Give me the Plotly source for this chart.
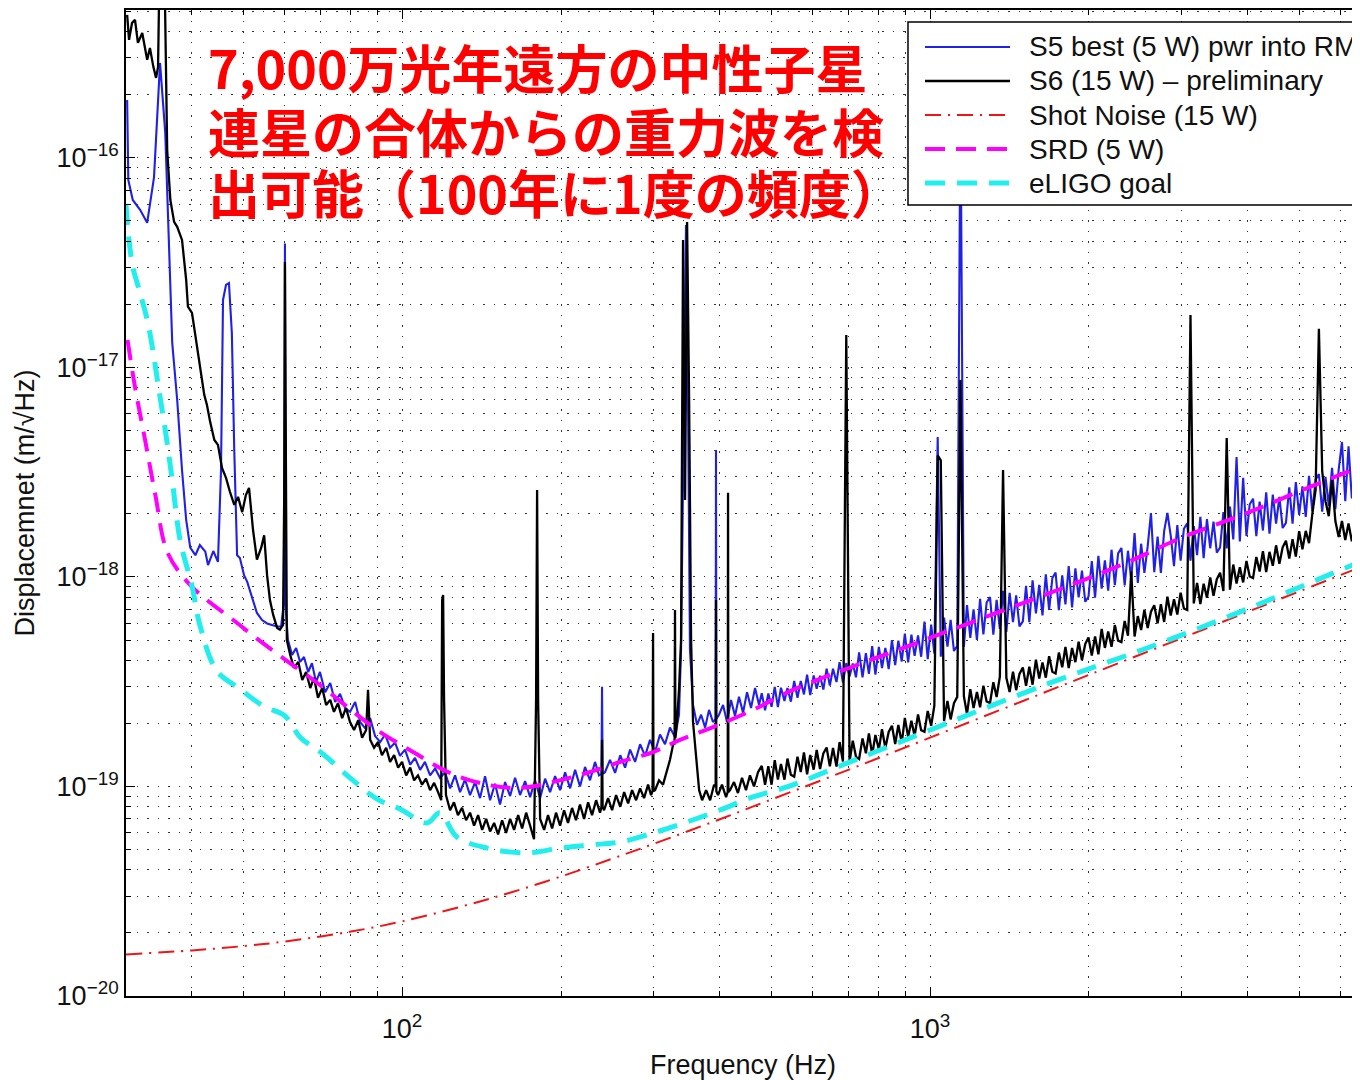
import plotly.graph_objects as go

# ---------------- data ----------------
# S5 (blue) below 480 Hz
s5_low_freq = [30.15, 30.3, 30.9, 31.9, 32.9, 33.9, 34.8, 35.6, 36.7, 37.5, 38.3, 39.0, 39.7, 40.6, 41.4, 42.4, 42.9, 43.9,
               44.8, 45.4, 45.8, 46.4, 47.0, 47.6, 48.1, 48.7, 49.3, 50.2, 50.9, 52.0, 53.1, 54.3, 55.5, 56.7, 58.0, 59.0,
               59.8, 60.0, 60.2, 60.8, 61.9, 63.0, 64.1, 65.2, 66.4, 67.5, 68.7, 69.9, 71.5, 73.1, 74.7, 76.3, 78.0, 79.7,
               81.5, 83.3, 85.1, 87.0, 88.9, 90.9, 92.9, 94.9, 97.0, 99.1, 101.3, 103.6, 105.8, 108.2, 110.5, 113, 115.5,
               118, 120.6, 123.3, 126, 128.8, 131.6, 134.5, 137.5, 140.5, 143.6, 146.8, 150, 153.3, 156.7, 160.2, 163.7,
               167.3, 171, 174.8, 178.6, 182.6, 186.6, 190.7, 194.9, 199.2, 203.6, 208.1, 212.7, 217.3, 222.1, 227, 232,
               236.1, 238.6, 239.2, 239.8, 242.3, 247.7, 253.2, 259, 264.5, 270.3, 276.3, 282.4, 288.6, 294.9, 301.4, 308,
               314.8, 321.7, 328.8, 334.6, 337.6, 342, 345, 348, 351, 355.7, 362, 368.5, 375, 381.4, 388, 392.6, 393.2,
               393.8, 398.4, 405.5, 412.6, 419.8, 427.2, 434.7, 442.4, 450.2, 458.1, 466.2, 474.4]
s5_low_amp = [1.89e-16, 7.85e-17, 6.3e-17, 5.65e-17, 4.9e-17, 8.1e-17, 2.84e-16, 1.32e-16, 1.31e-17, 7.0e-18, 3.24e-18,
              1.87e-18, 1.38e-18, 1.27e-18, 1.42e-18, 1.32e-18, 1.14e-18, 1.33e-18,
              1.18e-18, 3.24e-18, 2.1e-17, 2.48e-17, 2.53e-17, 1.46e-17, 4.04e-18, 1.27e-18, 1.23e-18, 1.02e-18, 9.47e-19,
              7.94e-19, 6.73e-19, 6.23e-19, 6.0e-19, 5.9e-19, 5.8e-19, 5.8e-19,
              7.76e-19, 3.9e-17, 7.0e-19, 5.0e-19, 4.24e-19, 4.58e-19, 3.93e-19, 4.15e-19, 3.52e-19, 3.88e-19, 3.15e-19,
              3.52e-19, 2.82e-19, 3.12e-19, 2.53e-19, 2.77e-19, 2.37e-19, 2.27e-19,
              2.53e-19, 2.03e-19, 1.90e-19, 2.12e-19, 1.74e-19, 1.63e-19, 1.77e-19, 1.53e-19, 1.62e-19, 1.40e-19, 1.50e-19,
              1.27e-19, 1.37e-19, 1.20e-19, 1.31e-19, 1.13e-19, 1.22e-19,
              1.10e-19, 1.17e-19, 9.8e-20, 1.13e-19, 9.4e-20, 1.08e-19, 9.1e-20, 1.05e-19, 8.8e-20, 1.12e-19, 8.6e-20,
              1.03e-19, 8.2e-20, 1.05e-19, 9.0e-20, 1.10e-19,
              9.1e-20, 1.06e-19, 8.9e-20, 1.07e-19, 8.8e-20, 1.09e-19, 9.4e-20, 1.12e-19, 9.6e-20, 1.17e-19, 9.8e-20,
              1.20e-19, 1.0e-19, 1.24e-19, 1.07e-19, 1.31e-19,
              1.13e-19, 1.15e-19, 2.99e-19, 1.15e-19, 1.17e-19, 1.34e-19, 1.16e-19, 1.41e-19, 1.23e-19, 1.50e-19, 1.31e-19,
              1.59e-19, 1.40e-19, 1.67e-19, 1.46e-19, 1.77e-19,
              1.59e-19, 1.91e-19, 1.72e-19, 2.20e-19, 4.49e-19, 7.0e-18, 4.79e-17, 7.0e-18, 4.49e-19, 2.45e-19, 1.97e-19,
              2.2e-19, 1.91e-19, 2.32e-19, 2.03e-19, 2.1e-19, 4.04e-18,
              2.1e-19, 2.2e-19, 2.45e-19, 2.03e-19, 2.59e-19, 2.17e-19, 2.68e-19, 2.25e-19, 2.82e-19, 2.37e-19, 2.95e-19,
              2.45e-19]

# common frequency samples of the dense high-frequency part (Hz)
band_freq = [480, 487, 494, 501, 508, 515, 522, 530, 537, 545,
             553, 561, 569, 577, 585, 593, 602, 610, 619, 628,
             637, 646, 655, 665, 674, 684, 694, 704, 714, 724,
             734, 745, 756, 766, 777, 788, 800, 811, 823, 835,
             847, 859, 871, 884, 896, 909, 922, 935, 949, 962,
             976, 990, 1005, 1019, 1034, 1048, 1063, 1079, 1094, 1110,
             1126, 1142, 1159, 1175, 1192, 1209, 1227, 1244, 1262, 1280,
             1299, 1318, 1337, 1356, 1375, 1395, 1415, 1436, 1456, 1477,
             1499, 1520, 1542, 1564, 1587, 1610, 1633, 1657, 1681, 1705,
             1729, 1754, 1780, 1805, 1831, 1858, 1885, 1912, 1940, 1968,
             1996, 2025, 2054, 2084, 2114, 2144, 2175, 2207, 2239, 2271,
             2304, 2337, 2371, 2405, 2440, 2475, 2511, 2547, 2584, 2621,
             2659, 2698, 2737, 2776, 2816, 2857, 2898, 2940, 2983, 3026,
             3070, 3114, 3159, 3205, 3251, 3298, 3346, 3394, 3443, 3493,
             3543, 3595, 3647, 3699, 3753, 3807, 3862, 3918, 3975, 4032,
             4091, 4150, 4210, 4271, 4332, 4395, 4459, 4523, 4589, 4655,
             4722, 4791, 4860, 4930, 5002, 5074, 5148, 5222, 5298, 5374,
             5452, 5531, 5611, 5692, 5774, 5858, 5943, 6029, 6116, 6204,
             6294, 6385, 6478, 6571, 6666]

s5_band_amp = [2.79e-19, 2.31e-19, 2.78e-19, 2.40e-19, 2.99e-19, 2.39e-19, 2.96e-19, 2.56e-19, 2.95e-19, 2.54e-19,
               3.19e-19, 2.65e-19, 3.19e-19, 2.75e-19, 3.42e-19, 2.73e-19, 3.39e-19, 2.93e-19, 3.38e-19, 2.90e-19,
               3.65e-19, 3.03e-19, 3.65e-19, 3.15e-19, 3.92e-19, 3.13e-19, 3.88e-19, 3.35e-19, 3.86e-19, 3.32e-19,
               4.37e-19, 3.32e-19, 4.33e-19, 3.45e-19, 4.68e-19, 3.42e-19, 4.64e-19, 3.67e-19, 4.59e-19, 3.63e-19,
               5.00e-19, 3.80e-19, 4.96e-19, 3.95e-19, 5.36e-19, 3.91e-19, 5.31e-19, 4.20e-19, 5.26e-19, 4.16e-19,
               6.12e-19, 4.05e-19, 5.93e-19, 4.31e-19, 4.66e-18, 4.16e-19, 6.40e-19, 4.65e-19, 6.24e-19, 4.43e-19,
               4.69e-19, 2.0e-16, 4.64e-19, 7.35e-19, 5.12e-19, 7.00e-19, 5.01e-19, 7.86e-19, 5.32e-19, 7.55e-19,
               8.02e-19, 5.31e-19, 7.77e-19, 5.65e-19, 8.59e-19, 5.46e-19, 8.39e-19, 6.09e-19, 8.17e-19, 5.81e-19,
               6.14e-19, 9.07e-19, 6.08e-19, 9.63e-19, 6.71e-19, 9.17e-19, 6.56e-19, 1.029e-18, 6.97e-19, 9.89e-19,
               1.050e-18, 6.95e-19, 1.018e-18, 7.40e-19, 1.126e-18, 7.15e-19, 1.100e-18, 7.98e-19, 1.071e-18, 7.61e-19,
               8.05e-19, 1.189e-18, 7.97e-19, 1.262e-18, 8.80e-19, 1.201e-18, 8.60e-19, 1.349e-18, 9.13e-19, 1.295e-18,
               1.376e-18, 9.11e-19, 1.334e-18, 9.70e-19, 1.62e-18, 9.37e-19, 1.441e-18, 1.046e-18, 1.403e-18, 2.02e-18,
               1.055e-18, 1.558e-18, 1.045e-18, 1.654e-18, 2.02e-18, 1.575e-18, 1.127e-18, 1.768e-18, 1.197e-18, 1.698e-18,
               1.804e-18, 1.195e-18, 1.749e-18, 1.272e-18, 1.934e-18, 1.228e-18, 1.889e-18, 1.371e-18, 1.839e-18, 1.307e-18,
               1.382e-18, 2.041e-18, 1.369e-18, 2.166e-18, 1.510e-18, 3.74e-18, 1.477e-18, 2.97e-18, 1.568e-18, 2.224e-18,
               2.363e-18, 1.565e-18, 2.291e-18, 1.666e-18, 2.533e-18, 1.609e-18, 2.474e-18, 1.795e-18, 2.409e-18, 1.712e-18,
               1.811e-18, 2.675e-18, 1.794e-18, 2.839e-18, 1.979e-18, 2.703e-18, 1.935e-18, 3.035e-18, 2.055e-18, 2.915e-18,
               3.098e-18, 2.051e-18, 3.003e-18, 2.183e-18, 3.320e-18, 2.108e-18, 3.242e-18, 4.4e-18, 2.30e-18, 4.2e-18,
               2.373e-18, 3.505e-18, 4.77e-18, 2.50e-18, 3.72e-18]

# S6 (black) below 480 Hz
s6_low_freq = [30.15, 30.4, 30.8, 31.2, 31.6, 32.2, 32.9, 33.3, 33.8, 34.2, 34.5, 34.8, 35.4, 35.9, 36.4, 37.0, 37.5, 38.3,
               39.0, 39.3, 40.0, 40.7, 41.4, 42.2, 42.7, 43.3, 44.1, 44.8, 45.6, 46.4, 47.2, 48.1, 48.9, 49.8, 50.6, 51.3,
               52.2, 53.1, 54.1, 54.8, 55.5, 56.2, 57.0, 58.0, 58.7, 59.5, 59.8, 60.0, 60.3, 60.5, 61.4, 62.4, 63.6, 64.7,
               65.8, 67.0, 68.1, 69.3, 70.6, 71.8, 73.1, 74.3, 75.6, 77.0, 78.3, 79.7, 81.1, 82.6, 84.0, 85.5, 86.2, 87.0,
               88.5, 90.1, 91.6, 93.3, 94.9, 96.6, 98.3, 100, 101.8, 103.6, 105.4, 107.2, 109.1, 111, 113, 115, 117, 118.6,
               119.1, 119.6, 120.1, 121.1, 123.3, 125.4, 127.6, 129.9, 132.2, 134.5, 136.9, 139.3, 141.8, 144.3, 146.8,
               149.4, 152, 154.7, 157.4, 160.2, 163, 165.9, 168.8, 171.8, 174.8, 177.8, 179.4, 180.2, 181, 182.6, 185.8,
               189, 192.4, 195.7, 199.2, 202.7, 206.2, 209.9, 213.5, 217.3, 221.2, 225.1, 229, 233.1, 237.1, 238.6, 239.2,
               239.8, 241.3, 245.6, 249.9, 254.3, 259, 263.4, 268, 272.7, 277.5, 282.4, 287.3, 292.4, 296.2, 298.2, 298.8,
               299.4, 301.4, 306.7, 312.1, 317.7, 321.7, 326.2, 328.2, 328.8, 329.4, 331.7, 334.6, 337.6, 340.6, 343.6,
               346.6, 349.7, 352.7, 355.7, 360.6, 365.3, 370.1, 376.6, 383.2, 389.9, 392.6, 393.2, 393.8, 396.7, 403.6,
               410.8, 413.8, 414.4, 415, 418, 425.3, 432.7, 440.4, 448.1, 456, 464.1, 472.3]
s6_low_amp = [4.82e-16, 3.66e-16, 4.41e-16, 4.56e-16, 3.54e-16, 3.95e-16, 2.94e-16, 3.35e-16, 2.72e-16, 2.41e-16, 2.72e-16,
              1.2e-15, 1.2e-15, 1.09e-16, 6.3e-17, 4.95e-17, 4.69e-17, 4.06e-17,
              2.62e-17, 1.95e-17, 1.82e-17, 1.35e-17, 1.0e-17, 7.4e-18, 6.62e-18, 5.5e-18, 4.51e-18, 4.27e-18, 3.31e-18,
              2.97e-18, 2.55e-18, 2.21e-18, 2.41e-18, 2.04e-18, 2.46e-18, 2.66e-18,
              1.68e-18, 1.21e-18, 1.38e-18, 1.58e-18, 1.02e-18, 7.76e-19, 6.59e-19, 5.71e-19, 5.6e-19, 5.9e-19, 2.33e-18,
              3.19e-17, 2.33e-18, 5.0e-19, 4.24e-19, 3.68e-19, 3.93e-19, 3.22e-19,
              3.52e-19, 2.95e-19, 3.30e-19, 2.65e-19, 2.95e-19, 2.45e-19, 2.59e-19, 2.27e-19, 2.50e-19, 2.12e-19, 2.37e-19,
              2.03e-19, 1.86e-19, 2.07e-19, 1.71e-19, 1.86e-19, 2.89e-19, 1.67e-19,
              1.53e-19, 1.63e-19, 1.41e-19, 1.53e-19, 1.31e-19, 1.41e-19, 1.23e-19, 1.31e-19, 1.13e-19, 1.23e-19, 1.07e-19,
              1.13e-19, 1.02e-19, 1.09e-19, 9.6e-20, 1.04e-19, 9.4e-20, 8.6e-20,
              7.76e-19, 8.2e-19, 2.59e-19, 9.1e-20, 7.7e-20, 8.4e-20, 7.3e-20, 7.9e-20, 6.9e-20, 7.5e-20, 6.5e-20, 7.3e-20,
              6.2e-20, 7.0e-20, 6.1e-20,
              6.7e-20, 5.9e-20, 6.9e-20, 6.0e-20, 7.0e-20, 6.2e-20, 7.3e-20, 6.3e-20, 7.5e-20, 6.5e-20, 5.6e-20, 2.59e-19,
              2.6e-18, 2.59e-19, 7.0e-20, 6.2e-20,
              7.3e-20, 6.3e-20, 7.5e-20, 6.5e-20, 7.7e-20, 6.7e-20, 7.9e-20, 6.9e-20, 8.2e-20, 7.0e-20, 8.4e-20, 7.3e-20,
              8.6e-20, 7.5e-20, 8.0e-20, 1.67e-19,
              8.0e-20, 7.7e-20, 8.8e-20, 7.7e-20, 9.1e-20, 8.0e-20, 9.4e-20, 8.3e-20, 9.6e-20, 8.6e-20, 9.8e-20, 8.8e-20,
              1.02e-19, 9.1e-20, 9.5e-20, 5.4e-19,
              9.5e-20, 9.6e-20, 1.07e-19, 1.02e-19, 1.2e-19, 1.34e-19, 1.59e-19, 1.6e-19, 6.96e-19, 1.7e-19, 2.03e-19,
              2.89e-19, 5.0e-19, 4.06e-17, 2.33e-18,
              4.95e-17, 7.0e-18, 5.0e-19, 2.03e-19, 1.34e-19, 9.6e-20, 8.6e-20, 9.6e-20, 8.6e-20, 1.02e-19, 1.0e-19, 7.76e-19,
              9.5e-20, 9.1e-20, 1.02e-19,
              8.9e-20, 9.4e-20, 2.52e-18, 9.4e-20, 9.6e-20, 1.05e-19, 9.3e-20, 1.10e-19, 9.6e-20, 1.13e-19, 1.0e-19, 1.17e-19]

s6_band_amp = [1.254e-19, 1.020e-19, 1.249e-19, 1.020e-19, 1.336e-19, 1.078e-19, 1.282e-19, 1.078e-19, 1.359e-19, 1.138e-19,
               1.113e-19, 1.388e-19, 1.172e-19, 1.453e-19, 1.142e-19, 1.415e-19, 1.203e-19, 1.494e-19, 1.211e-19, 1.439e-19,
               1.534e-19, 1.247e-19, 1.526e-19, 1.245e-19, 1.630e-19, 1.315e-19, 1.43e-17, 1.313e-19, 1.654e-19, 1.385e-19,
               1.353e-19, 1.696e-19, 1.439e-19, 1.792e-19, 1.415e-19, 1.760e-19, 1.503e-19, 1.875e-19, 1.526e-19, 1.821e-19,
               1.949e-19, 1.594e-19, 1.964e-19, 1.613e-19, 2.125e-19, 1.724e-19, 2.061e-19, 1.742e-19, 2.207e-19, 1.857e-19,
               1.825e-19, 2.292e-19, 1.949e-19, 2.432e-19, 3.8e-18, 3.6e-18, 2.051e-19, 2.563e-19, 2.090e-19, 2.497e-19,
               2.677e-19, 8.7e-18, 2.697e-19, 2.214e-19, 2.916e-19, 2.366e-19, 2.827e-19, 2.389e-19, 3.026e-19, 2.547e-19,
               2.501e-19, 3.145e-19, 2.675e-19, 3.341e-19, 3.24e-18, 3.299e-19, 2.825e-19, 3.531e-19, 2.882e-19, 3.446e-19,
               3.696e-19, 3.023e-19, 3.726e-19, 3.060e-19, 4.031e-19, 3.271e-19, 3.910e-19, 3.305e-19, 4.187e-19, 3.525e-19,
               3.462e-19, 4.356e-19, 3.708e-19, 4.633e-19, 3.670e-19, 4.579e-19, 3.922e-19, 4.906e-19, 4.005e-19, 4.791e-19,
               5.141e-19, 4.212e-19, 5.199e-19, 4.277e-19, 5.643e-19, 4.586e-19, 5.489e-19, 4.646e-19, 5.894e-19, 4.968e-19,
               4.886e-19, 6.160e-19, 5.244e-19, 1.06e-18, 5.201e-19, 6.502e-19, 5.578e-19, 6.978e-19, 5.706e-19, 6.826e-19,
               7.336e-19, 6.012e-19, 7.412e-19, 6.098e-19, 8.048e-19, 6.543e-19, 7.822e-19, 6.622e-19, 8.403e-19, 7.075e-19,
               6.960e-19, 1.78e-17, 7.480e-19, 9.356e-19, 7.418e-19, 9.277e-19, 7.953e-19, 9.957e-19, 8.136e-19, 9.752e-19,
               1.047e-18, 8.577e-19, 4.6e-18, 8.694e-19, 1.146e-18, 9.309e-19, 1.113e-18, 9.416e-19, 1.193e-18, 1.006e-18,
               9.879e-19, 1.245e-18, 1.062e-18, 1.329e-18, 1.054e-18, 1.318e-18, 1.130e-18, 1.416e-18, 1.157e-18, 1.386e-18,
               1.490e-18, 1.224e-18, 1.515e-18, 1.250e-18, 1.653e-18, 1.356e-18, 1.659e-18, 1.451e-18, 2.0e-18, 2.6e-18,
               1.53e-17, 3.2e-18, 2.3e-18, 1.95e-18, 2.9e-18, 1.85e-18, 1.55e-18, 1.85e-18, 1.50e-18, 1.80e-18,
               1.48e-18, 1.82e-18, 1.52e-18, 1.80e-18, 1.55e-18]

shot_freq = [30, 40, 50, 60, 80, 100, 130, 160, 200, 250, 300, 400, 500, 700, 1000, 1500, 2000, 3000, 4000, 5000, 6600]
shot_amp = [1.58e-20, 1.65e-20, 1.73e-20, 1.82e-20, 2.03e-20, 2.27e-20, 2.68e-20, 3.11e-20, 3.72e-20, 4.52e-20, 5.33e-20,
            6.98e-20, 8.66e-20, 1.20e-19, 1.71e-19, 2.56e-19, 3.41e-19, 5.11e-19, 6.82e-19, 8.52e-19, 1.125e-18]

srd_freq = [30.2, 31.2, 32.6, 34.1, 35.9, 39.2, 42.7, 47.9, 53.8, 60.6, 69.9, 79.7, 89.7, 103.6, 123.3, 145, 167, 193,
            224, 259, 299, 336, 388, 462, 550, 1000, 2261, 3014, 3985, 5245, 6521]
srd_amp = [1.35e-17, 8.07e-18, 4.51e-18, 2.46e-18, 1.32e-18, 9.46e-19, 7.76e-19, 6.23e-19, 4.95e-19, 3.97e-19, 3.05e-19,
           2.34e-19, 1.86e-19, 1.49e-19, 1.16e-19, 1.02e-19, 9.84e-20, 1.05e-19, 1.16e-19, 1.31e-19, 1.46e-19, 1.67e-19,
           1.92e-19, 2.32e-19, 2.89e-19, 5.12e-19, 1.12e-18, 1.55e-18, 2.02e-18, 2.69e-18, 3.35e-18]

eligo_freq = [30.0, 30.3, 30.9, 31.9, 32.9, 33.8, 34.4, 35.6, 36.7, 38.0, 40.0, 41.4, 44.6, 49.3, 54.6, 60.0, 64.1, 70.8,
              79.7, 89.7, 99.1, 111.5, 118, 127, 145, 172.5, 199, 227, 259, 299, 346.6, 400, 462, 536, 706, 1000, 1688,
              2610, 3865, 5021, 6521]
eligo_amp = [5.97e-17, 4.39e-17, 3.02e-17, 2.27e-17, 1.69e-17, 1.17e-17, 8.7e-18, 5.03e-18, 2.90e-18, 1.49e-18, 9.06e-19,
             5.90e-19, 3.56e-19, 2.92e-19, 2.42e-19, 2.17e-19, 1.72e-19, 1.43e-19, 1.10e-19, 8.71e-20, 7.81e-20, 6.70e-20,
             7.48e-20, 5.74e-20, 5.08e-20, 4.82e-20, 5.08e-20, 5.26e-20, 5.43e-20, 6.0e-20, 6.77e-20, 7.72e-20, 8.91e-20,
             9.95e-20, 1.31e-19, 1.86e-19, 3.12e-19, 4.63e-19, 6.81e-19, 8.96e-19, 1.18e-18]

series_names = ["S5 best (5 W) pwr into RM", "S6 (15 W) \u2013 preliminary", "Shot Noise (15 W)", "SRD (5 W)", "eLIGO goal"]

x_tick_vals = [100, 1000]
x_tick_text = ["10<sup>2</sup>", "10<sup>3</sup>"]
x_minor_vals = [40, 50, 60, 70, 80, 90, 200, 300, 400, 500, 600, 700, 800, 900, 2000, 3000, 4000, 5000, 6000]
y_tick_vals = [1e-20, 1e-19, 1e-18, 1e-17, 1e-16]
y_tick_text = ["10<sup>\u221220</sup>", "10<sup>\u221219</sup>", "10<sup>\u221218</sup>", "10<sup>\u221217</sup>",
               "10<sup>\u221216</sup>"]
y_minor_vals = [m * d for d in [1e-20, 1e-19, 1e-18, 1e-17, 1e-16] for m in range(2, 10)]

note_lines = ["7,000万光年遠方の中性子星", "連星の合体からの重力波を検", "出可能（100年に1度の頻度）"]

# ---------------- styles ----------------
font_main = "Liberation Sans, Arial, sans-serif"
styles = [
    dict(color="#2020E6", width=2.1),
    dict(color="#000000", width=2.3),
    dict(color="#F01414", width=2, dash="16px,7px,2px,7px"),
    dict(color="#FF00FF", width=4, dash="20px,11px"),
    dict(color="#22EEEE", width=5, dash="20px,12px"),
]

s5_freq = s5_low_freq + band_freq
s5_amp = s5_low_amp + s5_band_amp
s6_freq = s6_low_freq + band_freq
s6_amp = s6_low_amp + s6_band_amp

fig = go.Figure()
fig.add_trace(go.Scatter(x=s5_freq, y=s5_amp, mode="lines", name=series_names[0], line=styles[0]))
fig.add_trace(go.Scatter(x=s6_freq, y=s6_amp, mode="lines", name=series_names[1], line=styles[1]))
fig.add_trace(go.Scatter(x=shot_freq, y=shot_amp, mode="lines", name=series_names[2], line_shape="spline",
                         line=styles[2]))
fig.add_trace(go.Scatter(x=srd_freq, y=srd_amp, mode="lines", name=series_names[3], line_shape="spline",
                         line=styles[3]))
fig.add_trace(go.Scatter(x=eligo_freq, y=eligo_amp, mode="lines", name=series_names[4], line_shape="spline",
                         line=styles[4]))

grid_common = dict(showgrid=True, gridcolor="#333333", gridwidth=1, griddash="1.5px,9px")

fig.update_xaxes(type="log", range=[1.4771, 3.8144], tickmode="array", tickvals=x_tick_vals, ticktext=x_tick_text,
                 ticks="inside", ticklen=9, tickwidth=1.3, tickcolor="#000", ticklabelstandoff=8,
                 showline=True, linecolor="#000", linewidth=1.8, mirror="ticks", zeroline=False,
                 tickfont=dict(family=font_main, size=27, color="#111"),
                 title=dict(text="Frequency (Hz)", font=dict(family=font_main, size=27, color="#111"), standoff=16),
                 automargin=False,
                 minor=dict(tickmode="array", tickvals=x_minor_vals, ticks="inside", ticklen=5, tickcolor="#000",
                            **grid_common),
                 **grid_common)
fig.update_yaxes(type="log", range=[-20, -15.294], tickmode="array", tickvals=y_tick_vals, ticktext=y_tick_text,
                 ticks="inside", ticklen=9, tickwidth=1.3, tickcolor="#000",
                 showline=True, linecolor="#000", linewidth=1.8, mirror="ticks", zeroline=False,
                 tickfont=dict(family=font_main, size=27, color="#111"),
                 title=dict(text="Displacemnet (m/\u221aHz)", font=dict(family=font_main, size=27, color="#111"),
                            standoff=14),
                 automargin=False,
                 minor=dict(tickmode="array", tickvals=y_minor_vals, ticks="inside", ticklen=5, tickcolor="#000",
                            **grid_common),
                 **grid_common)

# Japanese note, one line per annotation
note_y = [0.9422, 0.8773, 0.8155]
for txt, yy in zip(note_lines, note_y):
    fig.add_annotation(text="<b>" + txt + "</b>", xref="paper", yref="paper", x=0.0645, y=yy,
                       xanchor="left", yanchor="middle", showarrow=False, align="left",
                       font=dict(family="Noto Sans CJK JP", size=52, color="#FF0000"))

# Legend box drawn like the original (boxed, long line samples)
leg_y = [0.9625, 0.9280, 0.8935, 0.8590, 0.8245]
fig.add_shape(type="rect", xref="paper", yref="paper", x0=0.6337, x1=1.02, y0=0.8022, y1=0.9878,
              line=dict(color="#000", width=1.5), fillcolor="white", layer="above")
for name, st, yy in zip(series_names, styles, leg_y):
    fig.add_shape(type="line", xref="paper", yref="paper", x0=0.6475, x1=0.7164, y0=yy, y1=yy,
                  line=st, layer="above")
    fig.add_annotation(text=name, xref="paper", yref="paper", x=0.7300, y=yy, xanchor="left", yanchor="middle",
                       showarrow=False, font=dict(family=font_main, size=28, color="#111"))

fig.update_layout(
    width=1352, height=1072,
    margin=dict(l=118, r=0, t=2, b=84),
    paper_bgcolor="white", plot_bgcolor="white",
    showlegend=False,
)

fig.write_html("out.html")
